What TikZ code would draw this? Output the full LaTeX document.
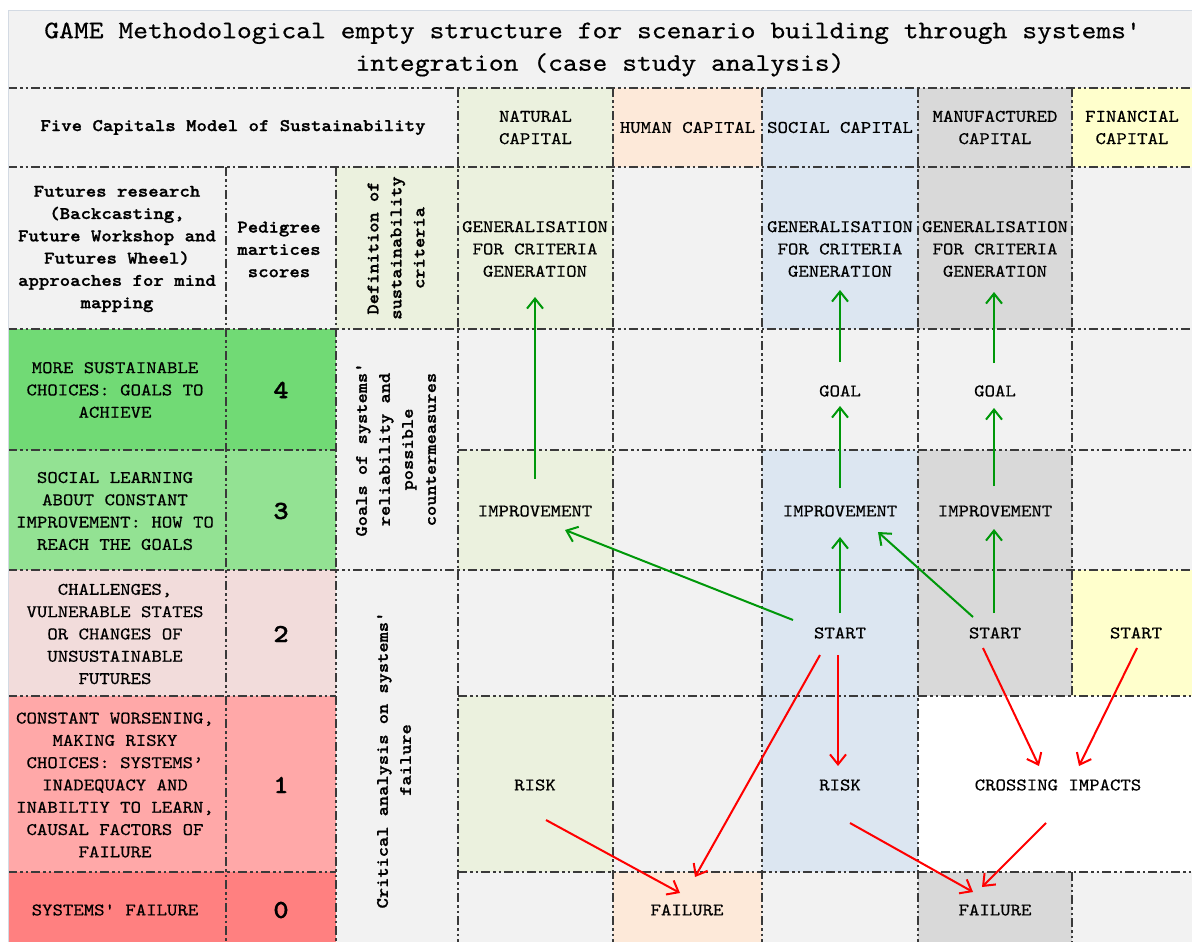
\documentclass[tikz,border=0pt]{standalone}
\usepackage{fontspec}
\setmonofont{lmmono10-regular.otf}[BoldFont=lmmonolt10-bold.otf, UprightFeatures={FakeBold=0.5}, BoldFeatures={FakeBold=1.2}, FakeStretch=1.12]
\usetikzlibrary{arrows.meta}

\definecolor{paper}{HTML}{F2F2F2}
\definecolor{rim}{HTML}{D3DAE3}
\definecolor{rulecol}{HTML}{3A3A3A}
\definecolor{natural}{HTML}{EBF1DE}
\definecolor{human}{HTML}{FDE9D9}
\definecolor{social}{HTML}{DCE6F1}
\definecolor{manuf}{HTML}{D9D9D9}
\definecolor{financial}{HTML}{FFFFCC}
\definecolor{scorefour}{HTML}{71DA75}
\definecolor{scorethree}{HTML}{93E293}
\definecolor{scoretwo}{HTML}{F2DCDB}
\definecolor{scoreone}{HTML}{FFA8A8}
\definecolor{scorezero}{HTML}{FF8080}
\definecolor{upgreen}{HTML}{00980A}
\definecolor{downred}{HTML}{FF0000}

\tikzset{
  cellrule/.style={draw=rulecol, line width=1.2pt,
    dash pattern=on 9pt off 3pt on 2.5pt off 3pt on 2.5pt off 3pt},
  txt/.style={font=\ttfamily\fontsize{17.7}{22.3}\selectfont, align=center, inner sep=0pt},
  boldtxt/.style={txt, font=\ttfamily\bfseries\fontsize{17.7}{22.3}\selectfont},
  vtxt/.style={boldtxt, font=\ttfamily\bfseries\fontsize{17.4}{23}\selectfont, rotate=90},
  titletxt/.style={font=\ttfamily\fontsize{25.2}{32.5}\selectfont, align=center, inner sep=0pt},
  score/.style={font=\ttfamily\bfseries\fontsize{26}{26}\selectfont, inner sep=0pt},
  greenarrow/.style={draw=upgreen, line width=2pt, -{Straight Barb[length=10pt,width=16pt]}},
  redarrow/.style={draw=downred, line width=2pt, -{Straight Barb[length=10pt,width=16pt]}},
}

\begin{document}
\begin{tikzpicture}[x=1pt, y=-1pt]
\useasboundingbox (0,0) rectangle (1192,942);
\fill[white] (0,0) rectangle (1192,942);
\fill[paper] (8,10) rectangle (1192,942);

% header row of the five capitals
\fill[natural] (458,88) rectangle (613,167);
\fill[human] (613,88) rectangle (762,167);
\fill[social] (762,88) rectangle (918,167);
\fill[manuf] (918,88) rectangle (1072,167);
\fill[financial] (1072,88) rectangle (1192,167);
% criteria row
\fill[natural] (336,167) rectangle (613,329);
\fill[social] (762,167) rectangle (918,329);
\fill[manuf] (918,167) rectangle (1072,329);
% score 4
\fill[scorefour] (8,329) rectangle (336,450);
% score 3
\fill[scorethree] (8,450) rectangle (336,570);
\fill[natural] (458,450) rectangle (613,570);
\fill[social] (762,450) rectangle (918,570);
\fill[manuf] (918,450) rectangle (1072,570);
% score 2
\fill[scoretwo] (8,570) rectangle (336,696);
\fill[social] (762,570) rectangle (918,696);
\fill[manuf] (918,570) rectangle (1072,696);
\fill[financial] (1072,570) rectangle (1192,696);
% score 1
\fill[scoreone] (8,696) rectangle (336,872);
\fill[natural] (458,696) rectangle (613,872);
\fill[social] (762,696) rectangle (918,872);
\fill[white] (918,696) rectangle (1192,872);
% score 0
\fill[scorezero] (8,872) rectangle (336,942);
\fill[human] (613,872) rectangle (762,942);
\fill[manuf] (918,872) rectangle (1072,942);

% table rules
\draw[cellrule] (8,88) -- (1192,88);
\draw[cellrule] (8,167) -- (1192,167);
\draw[cellrule] (8,329) -- (1192,329);
\draw[cellrule] (8,450) -- (336,450);
\draw[cellrule] (458,450) -- (1192,450);
\draw[cellrule] (8,570) -- (1192,570);
\draw[cellrule] (8,696) -- (336,696);
\draw[cellrule] (458,696) -- (1192,696);
\draw[cellrule] (8,872) -- (336,872);
\draw[cellrule] (458,872) -- (1192,872);
\draw[cellrule] (226,167) -- (226,942);
\draw[cellrule] (336,167) -- (336,942);
\draw[cellrule] (458,88) -- (458,942);
\draw[cellrule] (613,88) -- (613,942);
\draw[cellrule] (762,88) -- (762,942);
\draw[cellrule] (918,88) -- (918,942);
\draw[cellrule] (1072,88) -- (1072,696);
\draw[cellrule] (1072,872) -- (1072,942);
\draw[rim, line width=1pt] (8.5,10.5) rectangle (1196,946);

% title
\node[titletxt] (title) at (600,49.5)
  {GAME Methodological empty structure for scenario building through systems'\hphantom{x}\\integration (case study analysis)};

% header texts
\node[boldtxt] (model) at (233,127.5) {Five Capitals Model of Sustainability};
\node[txt] (natcap) at (535.5,127.5) {NATURAL\\CAPITAL};
\node[txt] (humcap) at (687.5,127.5) {HUMAN CAPITAL};
\node[txt] (soccap) at (840,127.5) {SOCIAL CAPITAL};
\node[txt] (mancap) at (995,127.5) {MANUFACTURED\\CAPITAL};
\node[txt] (fincap) at (1132,127.5) {FINANCIAL\\CAPITAL};

% left columns
\node[boldtxt] (futures) at (117,249)
  {Futures research\\(Backcasting,\\Future Workshop and\\Futures Wheel)\\approaches for mind\\mapping};
\node[boldtxt] (pedigree) at (279,249.5) {Pedigree\\martices\\scores};
\node[vtxt] (defcrit) at (396,248) {Definition of\\sustainability\\criteria};
\node[vtxt] (goals) at (396,449.5) {Goals of systems'\\reliability and\\possible\\countermeasures};
\node[vtxt] (critical) at (394,760) {Critical analysis on systems'\\failure};

\node[txt] (lvlfour) at (115,390) {MORE SUSTAINABLE\\CHOICES: GOALS TO\\ACHIEVE};
\node[txt] (lvlthree) at (115,511) {SOCIAL LEARNING\\ABOUT CONSTANT\\IMPROVEMENT: HOW TO\\REACH THE GOALS};
\node[txt] (lvltwo) at (115,634) {CHALLENGES,\\VULNERABLE STATES\\OR CHANGES OF\\UNSUSTAINABLE\\FUTURES};
\node[txt] (lvlone) at (115,785) {CONSTANT WORSENING,\\MAKING RISKY\\CHOICES: SYSTEMS’\\INADEQUACY AND\\INABILTIY TO LEARN,\\CAUSAL FACTORS OF\\FAILURE};
\node[txt] (lvlzero) at (115,910) {SYSTEMS' FAILURE};

\node[score] (sfour) at (281,390) {4};
\node[score] (sthree) at (281,511) {3};
\node[score] (stwo) at (281,634) {2};
\node[score] (sone) at (281,785) {1};
\node[score] (szero) at (281,910) {0};

% capital columns
\node[txt] (gen1) at (535,249) {GENERALISATION\\FOR CRITERIA\\GENERATION};
\node[txt] (gen2) at (840,249) {GENERALISATION\\FOR CRITERIA\\GENERATION};
\node[txt] (gen3) at (995,249) {GENERALISATION\\FOR CRITERIA\\GENERATION};
\node[txt] (goal2) at (840,391) {GOAL};
\node[txt] (goal3) at (995,391) {GOAL};
\node[txt] (imp1) at (535,511) {IMPROVEMENT};
\node[txt] (imp2) at (840,511) {IMPROVEMENT};
\node[txt] (imp3) at (995,511) {IMPROVEMENT};
\node[txt] (start2) at (840,633) {START};
\node[txt] (start3) at (995,633) {START};
\node[txt] (start4) at (1136,633) {START};
\node[txt] (risk1) at (535,785) {RISK};
\node[txt] (risk2) at (840,785) {RISK};
\node[txt] (cross) at (1058,785) {CROSSING IMPACTS};
\node[txt] (fail1) at (687,910) {FAILURE};
\node[txt] (fail2) at (995,910) {FAILURE};

% upward links
\draw[greenarrow] ([shift={(0,-32)}]imp1.center) -- ([shift={(0,48)}]gen1.center);
\draw[greenarrow] ([shift={(0,-23)}]imp2.center) -- ([shift={(0,15)}]goal2.center);
\draw[greenarrow] ([shift={(0,-29)}]goal2.center) -- ([shift={(0,41)}]gen2.center);
\draw[greenarrow] ([shift={(-1,-25)}]imp3.center) -- ([shift={(-1,17)}]goal3.center);
\draw[greenarrow] ([shift={(-1,-28)}]goal3.center) -- ([shift={(-1,43)}]gen3.center);
\draw[greenarrow] ([shift={(0,-20)}]start2.center) -- ([shift={(0,26)}]imp2.center);
\draw[greenarrow] ([shift={(-47,-13)}]start2.center) -- ([shift={(30,19)}]imp1.center);
\draw[greenarrow] ([shift={(-1,-20)}]start3.center) -- ([shift={(-1,18)}]imp3.center);
\draw[greenarrow] ([shift={(-22,-16)}]start3.center) -- ([shift={(38,21)}]imp2.center);

% downward links
\draw[redarrow] ([shift={(-20,22)}]start2.center) -- ([shift={(8,-33)}]fail1.center);
\draw[redarrow] ([shift={(-2,22)}]start2.center) -- ([shift={(-2,-19)}]risk2.center);
\draw[redarrow] ([shift={(-12,15)}]start3.center) -- ([shift={(-19,-19)}]cross.center);
\draw[redarrow] ([shift={(1,15)}]start4.center) -- ([shift={(21,-19)}]cross.center);
\draw[redarrow] ([shift={(11,35)}]risk1.center) -- ([shift={(-7,-17)}]fail1.center);
\draw[redarrow] ([shift={(10,38)}]risk2.center) -- ([shift={(-22,-18)}]fail2.center);
\draw[redarrow] ([shift={(-12,38)}]cross.center) -- ([shift={(-13,-23)}]fail2.center);
\end{tikzpicture}
\end{document}
